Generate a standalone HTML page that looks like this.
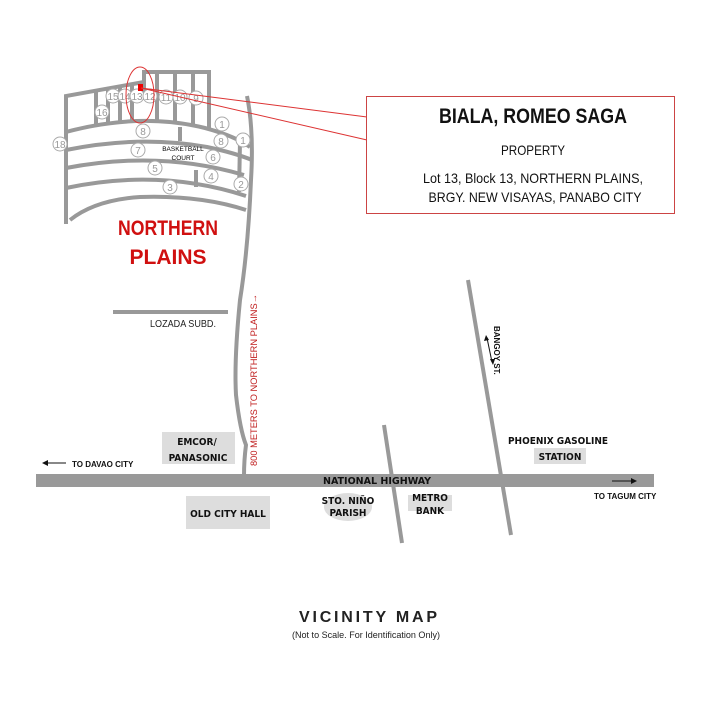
<!DOCTYPE html>
<html><head><meta charset="utf-8"><style>
html,body{margin:0;padding:0;background:#fff}
svg{display:block}
text{font-family:"Liberation Sans",sans-serif}
.c{fill:#fff;stroke:#aaa;stroke-width:1}
.n{font-size:10px;fill:#999;text-anchor:middle}
.s{fill:none;stroke:#999;stroke-width:4}
.lb{font-size:10px;fill:#111;text-anchor:middle;font-family:"DejaVu Sans Condensed","Liberation Sans Narrow","Liberation Sans",sans-serif;font-weight:bold}
</style></head><body>
<svg width="720" height="720" viewBox="0 0 720 720" xmlns="http://www.w3.org/2000/svg">
<rect width="720" height="720" fill="#fff"/>
<g class="s">
<path d="M66,224 L66,96 L144,82"/>
<path d="M144,94 L144,72 L209,72 L209,128"/>
<path d="M157,72 V123 M175,72 V123 M193,72 V125"/>
<path d="M96,90 V125 M108,88 V124 M120,86 V123 M132,84 V122"/>
<path d="M66,132 Q140,112 205,128 Q235,136 250,147"/>
<path d="M66,150 Q140,135 207,147 Q235,153 252,160"/>
<path d="M66,168 Q160,150 244,175"/>
<path d="M66,188 Q160,168 246,196"/>
<path d="M70,220 Q95,200 140,197 Q200,195 246,210"/>
<path d="M240,142 L239,192"/>
<path d="M180,127 V141"/>
<path d="M196,170 V187"/>
<path d="M247,96 Q254,130 251,180 Q248,250 240,300 Q234,360 236,395 Q240,430 246,445 Q244,460 244,476"/>
<path d="M113,312 H228"/>
<path d="M384,425 L402,543"/>
<path d="M468,280 L511,535"/>
</g>
<g>
<circle class="c" cx="113" cy="96" r="7"/><text class="n" x="113" y="100">15</text>
<circle class="c" cx="125" cy="96" r="7"/><text class="n" x="125" y="100">14</text>
<circle class="c" cx="137" cy="96" r="7"/><text class="n" x="137" y="100">13</text>
<circle class="c" cx="150" cy="96" r="7"/><text class="n" x="150" y="100">12</text>
<circle class="c" cx="166" cy="97" r="7"/><text class="n" x="166" y="101">11</text>
<circle class="c" cx="180" cy="97" r="7"/><text class="n" x="180" y="101">10</text>
<circle class="c" cx="196" cy="98" r="7"/><text class="n" x="196" y="102">9</text>
<circle class="c" cx="102" cy="112" r="7"/><text class="n" x="102" y="116">16</text>
<circle class="c" cx="143" cy="131" r="7"/><text class="n" x="143" y="135">8</text>
<circle class="c" cx="60" cy="144" r="7"/><text class="n" x="60" y="148">18</text>
<circle class="c" cx="138" cy="150" r="7"/><text class="n" x="138" y="154">7</text>
<circle class="c" cx="222" cy="124" r="7"/><text class="n" x="222" y="128">1</text>
<circle class="c" cx="221" cy="141" r="7"/><text class="n" x="221" y="145">8</text>
<circle class="c" cx="243" cy="140" r="7"/><text class="n" x="243" y="144">1</text>
<circle class="c" cx="213" cy="157" r="7"/><text class="n" x="213" y="161">6</text>
<circle class="c" cx="155" cy="168" r="7"/><text class="n" x="155" y="172">5</text>
<circle class="c" cx="211" cy="176" r="7"/><text class="n" x="211" y="180">4</text>
<circle class="c" cx="241" cy="184" r="7"/><text class="n" x="241" y="188">2</text>
<circle class="c" cx="170" cy="187" r="7"/><text class="n" x="170" y="191">3</text>
</g>
<text x="183" y="151" font-size="6.5" text-anchor="middle" fill="#000">BASKETBALL</text>
<text x="183" y="160" font-size="6.5" text-anchor="middle" fill="#000">COURT</text>
<ellipse cx="140" cy="95" rx="14" ry="28" fill="none" stroke="#d33" stroke-width="1"/>
<rect x="138" y="84" width="5" height="7" fill="#e00"/>
<path d="M141,88 L367,117 M141,88 L367,140" stroke="#d33" stroke-width="1" fill="none"/>
<rect x="366.5" y="96.5" width="308" height="117" fill="#fff" stroke="#c44" stroke-width="1"/>
<text x="533" y="123" font-size="21" font-weight="bold" text-anchor="middle" fill="#111" textLength="188" lengthAdjust="spacingAndGlyphs">BIALA, ROMEO SAGA</text>
<text x="533" y="155" font-size="14" text-anchor="middle" fill="#111" textLength="64" lengthAdjust="spacingAndGlyphs">PROPERTY</text>
<text x="533" y="183" font-size="14" text-anchor="middle" fill="#111" textLength="220" lengthAdjust="spacingAndGlyphs">Lot 13, Block 13,  NORTHERN PLAINS,</text>
<text x="535" y="202" font-size="14" text-anchor="middle" fill="#111" textLength="213" lengthAdjust="spacingAndGlyphs">BRGY. NEW VISAYAS, PANABO CITY</text>
<text x="168" y="235" font-size="21" font-weight="bold" text-anchor="middle" fill="#d01010" textLength="100" lengthAdjust="spacingAndGlyphs">NORTHERN</text>
<text x="168" y="264" font-size="21" font-weight="bold" text-anchor="middle" fill="#d01010">PLAINS</text>
<text x="183" y="327" font-size="10" text-anchor="middle" fill="#222" textLength="66" lengthAdjust="spacingAndGlyphs">LOZADA SUBD.</text>
<text transform="translate(257,466) rotate(-90)" font-size="9.5" fill="#c02020" textLength="172" lengthAdjust="spacingAndGlyphs">800 METERS TO NORTHERN PLAINS→</text>
<rect x="36" y="474" width="618" height="13" fill="#999"/>
<text x="377" y="484" class="lb" font-size="11" textLength="108" lengthAdjust="spacingAndGlyphs">NATIONAL HIGHWAY</text>
<rect x="162" y="432" width="73" height="32" fill="#ddd"/>
<text class="lb" x="197" y="445" font-size="11">EMCOR/</text>
<text class="lb" x="198" y="461" font-size="11">PANASONIC</text>
<rect x="186" y="496" width="84" height="33" fill="#ddd"/>
<text class="lb" x="228" y="517" font-size="11">OLD CITY HALL</text>
<ellipse cx="348" cy="507" rx="24" ry="14" fill="#ddd"/>
<text class="lb" x="348" y="504" font-size="8.5">STO. NIÑO</text>
<text class="lb" x="348" y="516" font-size="8.5">PARISH</text>
<rect x="408" y="495" width="44" height="16" fill="#ddd"/>
<text class="lb" x="430" y="501" font-size="9">METRO</text>
<text class="lb" x="430" y="514" font-size="9">BANK</text>
<text class="lb" x="558" y="444" font-size="11">PHOENIX GASOLINE</text>
<rect x="534" y="448" width="52" height="16" fill="#ddd"/>
<text class="lb" x="560" y="460" font-size="11">STATION</text>
<text x="72" y="467" font-size="8" font-weight="bold" fill="#111">TO DAVAO CITY</text>
<path d="M46,463 H66" stroke="#111" stroke-width="1"/><path d="M42,463 L48,460 L48,466Z" fill="#111"/>
<text x="594" y="499" font-size="8" font-weight="bold" fill="#111">TO TAGUM CITY</text>
<path d="M612,481 H632" stroke="#111" stroke-width="1"/><path d="M637,481 L631,478 L631,484Z" fill="#111"/>
<text transform="translate(494,326) rotate(90)" font-size="8" font-weight="bold" fill="#111">BANGOY ST.</text>
<path d="M487,338 L492,362" stroke="#111" stroke-width="1"/>
<path d="M486,335 L484,341 L489,340Z M493,365 L490,359 L495,359Z" fill="#111"/>
<text x="368" y="622" font-size="16" font-weight="bold" text-anchor="middle" fill="#222" textLength="138" lengthAdjust="spacing">VICINITY MAP</text>
<text x="366" y="638" font-size="9.5" text-anchor="middle" fill="#222" textLength="148" lengthAdjust="spacingAndGlyphs">(Not to Scale. For Identification Only)</text>
</svg>
</body></html>
